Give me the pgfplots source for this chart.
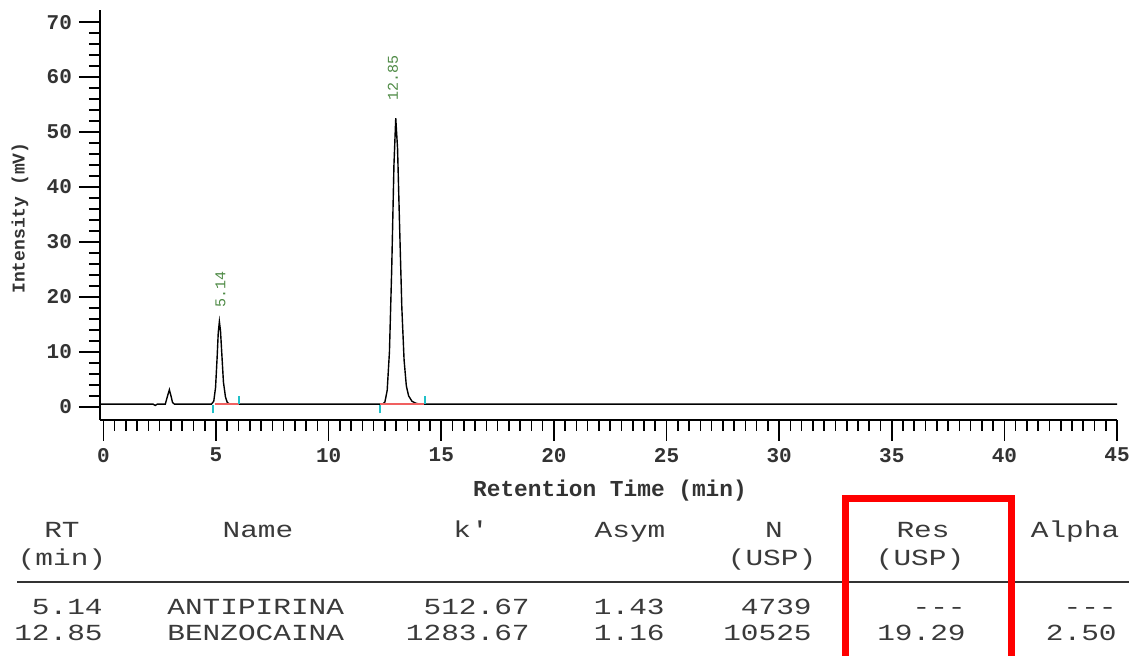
\documentclass[border=0pt]{standalone}
\usepackage{fontspec}
\usepackage{pgfplots}
\pgfplotsset{compat=1.18}
\newfontfamily\mono{Liberation Mono}
\newfontfamily\monot{Liberation Mono}[FakeStretch=1.28]
\definecolor{txt}{HTML}{333333}
\definecolor{tbl}{HTML}{3A3A3A}
\definecolor{pk}{HTML}{4E8A45}
\definecolor{cy}{HTML}{20C0C8}
\definecolor{rl}{HTML}{F06060}
\begin{document}
\begin{tikzpicture}
\begin{axis}[
  at={(50pt,-210pt)}, anchor=south west,
  scale only axis, width=508.5pt, height=205pt,
  xmin=-0.15, xmax=45, ymin=-2.4, ymax=72.2,
  axis x line=bottom, axis y line=left,
  x axis line style={-, line width=1pt},
  y axis line style={-, line width=1pt},
  xtick={0,5,...,45}, ytick={0,10,...,70},
  minor x tick num=9, minor y tick num=4,
  tick align=outside,
  major tick length=10.5pt, minor tick length=5.5pt,
  tick style={line width=0.8pt, black},
  ticklabel style={font=\mono\bfseries\fontsize{10.5}{12}\selectfont, text=txt},
  /pgf/number format/assume math mode=true,
  clip=false,
]
\addplot[black, line width=0.7pt] coordinates {
(-0.15,0.5) (2.2,0.5) (2.3,0.25) (2.4,0.5) (2.75,0.5) (2.85,2.0) (2.93,3.1) (3.0,2.0) (3.07,0.8) (3.15,0.5)
(4.8,0.5) (4.9,1.0) (4.98,3.5) (5.05,9) (5.1,13.5) (5.15,15.5) (5.2,13.8) (5.26,9.5) (5.33,4.5) (5.42,1.8) (5.5,0.8) (5.6,0.5)
(12.4,0.5) (12.5,0.9) (12.6,3) (12.7,10) (12.8,25) (12.9,44) (12.98,52.5) (13.06,47) (13.15,33) (13.25,18) (13.35,8.5) (13.45,3.8) (13.55,2.0) (13.7,1.0) (13.9,0.6) (14.1,0.5)
(45,0.5)};
\addplot[rl, line width=0.8pt] coordinates {(4.95,0.5) (6.0,0.5)};
\addplot[rl, line width=0.8pt] coordinates {(12.3,0.5) (14.25,0.5)};
\addplot[cy, line width=1pt] coordinates {(4.88,-1.2) (4.88,0.4)};
\addplot[cy, line width=1pt] coordinates {(6.04,0.5) (6.04,2.0)};
\addplot[cy, line width=1pt] coordinates {(12.27,-1.2) (12.27,0.4)};
\addplot[cy, line width=1pt] coordinates {(14.27,0.5) (14.27,2.0)};
\node[rotate=90, anchor=west, inner sep=1pt, font=\mono\fontsize{7.5}{8}\selectfont, text=pk] at (axis cs:5.2,17.6) {5.14};
\node[rotate=90, anchor=west, inner sep=1pt, font=\mono\fontsize{7.5}{8}\selectfont, text=pk] at (axis cs:12.85,55.3) {12.85};
\end{axis}
\begin{scope}[x=0.5pt,y=-0.5pt]
\node[font=\mono\bfseries\fontsize{11.4}{13}\selectfont, text=txt] at (610,491) {Retention Time (min)};
\node[rotate=90, font=\mono\bfseries\fontsize{9}{11}\selectfont, text=txt] at (20,218) {Intensity (mV)};
\begin{scope}[font=\monot\fontsize{11.5}{14}\selectfont, text=tbl, inner sep=0pt]
\node[anchor=base] at (62,538) {RT};
\node[anchor=base] at (62,566) {(min)};
\node[anchor=base] at (258,538) {Name};
\node[anchor=base] at (471,538) {k'};
\node[anchor=base] at (630,538) {Asym};
\node[anchor=base] at (774,538) {N};
\node[anchor=base] at (772,566) {(USP)};
\node[anchor=base] at (923,538) {Res};
\node[anchor=base] at (920,566) {(USP)};
\node[anchor=base] at (1075,538) {Alpha};
\node[anchor=base east] at (103,615) {5.14};
\node[anchor=base east] at (103,641) {12.85};
\node[anchor=base west] at (167,615) {ANTIPIRINA};
\node[anchor=base west] at (167,641) {BENZOCAINA};
\node[anchor=base east] at (530,615) {512.67};
\node[anchor=base east] at (530,641) {1283.67};
\node[anchor=base east] at (665,615) {1.43};
\node[anchor=base east] at (665,641) {1.16};
\node[anchor=base east] at (812,615) {4739};
\node[anchor=base east] at (812,641) {10525};
\node[anchor=base east] at (966,615) {---};
\node[anchor=base east] at (966,641) {19.29};
\node[anchor=base east] at (1117,615) {---};
\node[anchor=base east] at (1117,641) {2.50};
\end{scope}
\draw[txt, line width=1.2pt] (17,582) -- (1129,582);
\draw[red, line width=3.5pt] (845,665) -- (845,499) -- (1011,499) -- (1011,665);
\pgfresetboundingbox
\path (0,0) rectangle (1129,656);
\end{scope}
\end{tikzpicture}
\end{document}
